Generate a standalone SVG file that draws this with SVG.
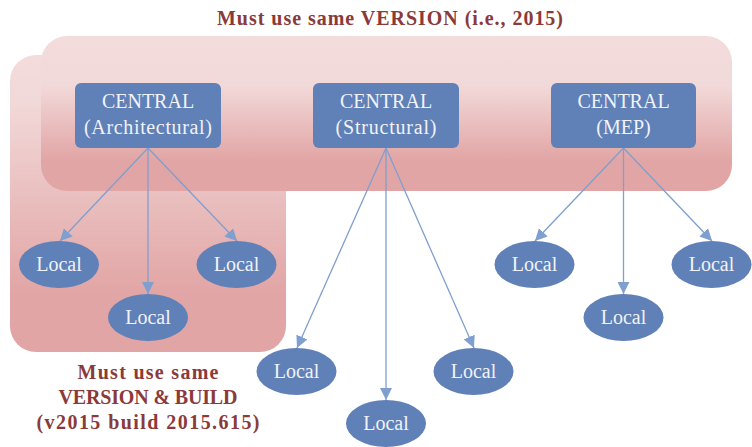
<svg xmlns="http://www.w3.org/2000/svg" width="752" height="447" viewBox="0 0 752 447">
<defs>
<linearGradient id="gTop" x1="0" y1="36" x2="0" y2="191" gradientUnits="userSpaceOnUse">
<stop offset="0" stop-color="#f4dcdc"/>
<stop offset="0.32" stop-color="#f2d9d9"/>
<stop offset="0.8" stop-color="#e2a5a5"/>
<stop offset="1" stop-color="#e2a5a5"/>
</linearGradient>
<linearGradient id="gLeft" x1="0" y1="55" x2="0" y2="352" gradientUnits="userSpaceOnUse">
<stop offset="0" stop-color="#f4dcdc"/>
<stop offset="0.15" stop-color="#f2d9d9"/>
<stop offset="0.8" stop-color="#e2a5a5"/>
<stop offset="1" stop-color="#e2a5a5"/>
</linearGradient>
<marker id="ah" markerWidth="12" markerHeight="12" refX="12" refY="6" orient="auto" markerUnits="userSpaceOnUse">
<path d="M0,0 L12,6 L0,12 z" fill="#7f9fcf"/>
</marker>
<style>
.central rect{fill:#6080b8}
.local ellipse{fill:#6080b8}
.lbl{font-family:"Liberation Serif","Times New Roman",serif;font-size:20px;fill:#f0f3f9;text-anchor:middle}
.title{font-family:"Liberation Serif","Times New Roman",serif;font-size:20px;font-weight:bold;fill:#8b3a3a;text-anchor:middle}
.conn line{stroke:#7f9fcf;stroke-width:1.3;fill:none;marker-end:url(#ah)}
</style>
</defs>
<rect width="752" height="447" fill="#ffffff"/>
<g id="region-build">
<rect x="10" y="55" width="276" height="297" rx="26" fill="url(#gLeft)"/>
</g>
<g id="region-version">
<rect x="41" y="36" width="691" height="155" rx="26" fill="url(#gTop)"/>
</g>
<g id="title-version">
<text class="title" x="390" y="25" textLength="346" lengthAdjust="spacing">Must use same VERSION (i.e., 2015)</text>
</g>
<g id="title-build">
<text class="title" x="148" y="379" textLength="141" lengthAdjust="spacing">Must use same</text>
<text class="title" x="148" y="404" textLength="179" lengthAdjust="spacing">VERSION &amp; BUILD</text>
<text class="title" x="148" y="429" textLength="223" lengthAdjust="spacing">(v2015 build 2015.615)</text>
</g>
<g id="connectors" class="conn">
<line x1="148" y1="148" x2="60" y2="241"/>
<line x1="148" y1="148" x2="148" y2="294"/>
<line x1="148" y1="148" x2="237" y2="241"/>
<line x1="386" y1="148" x2="297" y2="348"/>
<line x1="386" y1="148" x2="386" y2="400"/>
<line x1="386" y1="148" x2="474" y2="348"/>
<line x1="623.5" y1="148" x2="535" y2="241"/>
<line x1="623.5" y1="148" x2="623.5" y2="294"/>
<line x1="623.5" y1="148" x2="712" y2="241"/>
</g>
<g id="central-arch" class="central">
<rect x="75" y="83" width="146" height="65" rx="6"/>
<text class="lbl" x="148" y="108">CENTRAL</text>
<text class="lbl" x="148" y="134" textLength="128" lengthAdjust="spacing">(Architectural)</text>
</g>
<g id="central-struct" class="central">
<rect x="313" y="83" width="146" height="65" rx="6"/>
<text class="lbl" x="386" y="108">CENTRAL</text>
<text class="lbl" x="386" y="134" textLength="101" lengthAdjust="spacing">(Structural)</text>
</g>
<g id="central-mep" class="central">
<rect x="551" y="83" width="145" height="65" rx="6"/>
<text class="lbl" x="623.5" y="108">CENTRAL</text>
<text class="lbl" x="623.5" y="134">(MEP)</text>
</g>
<g id="local-a1" class="local"><ellipse cx="59" cy="264.5" rx="40" ry="23.5"/><text class="lbl" x="59" y="271">Local</text></g>
<g id="local-a2" class="local"><ellipse cx="148" cy="317.5" rx="40" ry="23.5"/><text class="lbl" x="148" y="324">Local</text></g>
<g id="local-a3" class="local"><ellipse cx="236.5" cy="264.5" rx="40" ry="23.5"/><text class="lbl" x="236.5" y="271">Local</text></g>
<g id="local-s1" class="local"><ellipse cx="296.5" cy="371.5" rx="40" ry="23.5"/><text class="lbl" x="296.5" y="378">Local</text></g>
<g id="local-s2" class="local"><ellipse cx="386" cy="423.5" rx="40" ry="23.5"/><text class="lbl" x="386" y="430">Local</text></g>
<g id="local-s3" class="local"><ellipse cx="473.5" cy="371.5" rx="40" ry="23.5"/><text class="lbl" x="473.5" y="378">Local</text></g>
<g id="local-m1" class="local"><ellipse cx="534.5" cy="264.5" rx="40" ry="23.5"/><text class="lbl" x="534.5" y="271">Local</text></g>
<g id="local-m2" class="local"><ellipse cx="623.5" cy="317.5" rx="40" ry="23.5"/><text class="lbl" x="623.5" y="324">Local</text></g>
<g id="local-m3" class="local"><ellipse cx="711.5" cy="264.5" rx="40" ry="23.5"/><text class="lbl" x="711.5" y="271">Local</text></g>
</svg>
